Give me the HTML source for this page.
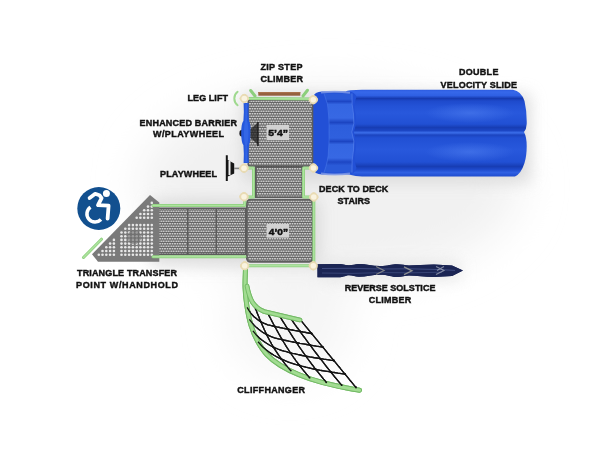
<!DOCTYPE html>
<html><head><meta charset="utf-8">
<style>
html,body{margin:0;padding:0;background:#fff;width:600px;height:450px;overflow:hidden}
svg{display:block}
text{font-family:"Liberation Sans",sans-serif;font-weight:bold;fill:#111;stroke:#111;stroke-width:0.42px}
svg{will-change:transform}
</style></head>
<body>
<svg width="600" height="450" viewBox="0 0 600 450">
<defs>
  <pattern id="perf" width="2.5" height="5" patternUnits="userSpaceOnUse">
    <rect width="2.5" height="5" fill="#666666"/>
    <rect x="0.5" y="0.55" width="1.5" height="1.4" fill="#e2e2e2"/>
    <rect x="1.75" y="3.05" width="1.5" height="1.4" fill="#e2e2e2"/>
    <rect x="-0.75" y="3.05" width="1.5" height="1.4" fill="#e2e2e2"/>
  </pattern>
  <pattern id="perf2" width="3.6" height="3.6" patternUnits="userSpaceOnUse">
    <rect width="3.6" height="3.6" fill="#6a6a6a"/>
    <circle cx="1.8" cy="1.8" r="1.05" fill="#dcdcdc"/>
  </pattern>
  <radialGradient id="shadow" cx="0.5" cy="0.5" r="0.5">
    <stop offset="0" stop-color="#e8e8e8"/>
    <stop offset="0.6" stop-color="#f2f2f2"/>
    <stop offset="1" stop-color="#ffffff" stop-opacity="0"/>
  </radialGradient>
  <filter id="blur4" x="-50%" y="-50%" width="200%" height="200%"><feGaussianBlur stdDeviation="8"/></filter>
  <filter id="blur1"><feGaussianBlur stdDeviation="0.6"/></filter>
  <linearGradient id="slideV" x1="0" y1="89.8" x2="0" y2="176.4" gradientUnits="userSpaceOnUse">
    <stop offset="0.0000" stop-color="#2c5ce0"/>
    <stop offset="0.0254" stop-color="#3668ea"/>
    <stop offset="0.0658" stop-color="#2f60e4"/>
    <stop offset="0.1005" stop-color="#163ab0"/>
    <stop offset="0.1293" stop-color="#1e4acc"/>
    <stop offset="0.1871" stop-color="#2352d6"/>
    <stop offset="0.2679" stop-color="#2858dc"/>
    <stop offset="0.3949" stop-color="#2150d4"/>
    <stop offset="0.4353" stop-color="#173db4"/>
    <stop offset="0.4700" stop-color="#1c46c4"/>
    <stop offset="0.4965" stop-color="#3b6eea"/>
    <stop offset="0.5219" stop-color="#1b44c0"/>
    <stop offset="0.5566" stop-color="#2150d4"/>
    <stop offset="0.6952" stop-color="#2858dc"/>
    <stop offset="0.8337" stop-color="#2150d4"/>
    <stop offset="0.8857" stop-color="#173db4"/>
    <stop offset="0.9203" stop-color="#1e4acc"/>
    <stop offset="0.9550" stop-color="#2f60e2"/>
    <stop offset="1.0000" stop-color="#1f4ccf"/>
  </linearGradient>
  <linearGradient id="hoodV" x1="0" y1="93.5" x2="0" y2="172.5" gradientUnits="userSpaceOnUse">
    <stop offset="0.0000" stop-color="#2a5ad8"/>
    <stop offset="0.0696" stop-color="#2a5ad8"/>
    <stop offset="0.1013" stop-color="#1d46c4"/>
    <stop offset="0.1392" stop-color="#3466e2"/>
    <stop offset="0.3101" stop-color="#3768e4"/>
    <stop offset="0.3671" stop-color="#1c45c2"/>
    <stop offset="0.4051" stop-color="#2d5edc"/>
    <stop offset="0.5633" stop-color="#2f60de"/>
    <stop offset="0.6076" stop-color="#1c45c2"/>
    <stop offset="0.6456" stop-color="#3466e2"/>
    <stop offset="0.8165" stop-color="#3768e4"/>
    <stop offset="0.8671" stop-color="#1d46c4"/>
    <stop offset="0.9114" stop-color="#2a5ad8"/>
    <stop offset="1.0000" stop-color="#2a5ad8"/>
  </linearGradient>
  <radialGradient id="sheen" cx="0.5" cy="0.5" r="0.5">
    <stop offset="0" stop-color="#5080f0" stop-opacity="0.55"/>
    <stop offset="1" stop-color="#5080f0" stop-opacity="0"/>
  </radialGradient>
</defs>

<!-- soft shadows -->
<filter id="blurBig" x="-50%" y="-50%" width="200%" height="200%"><feGaussianBlur stdDeviation="22"/></filter>
<g filter="url(#blurBig)">
  <ellipse cx="330" cy="185" rx="190" ry="95" fill="#f1f1f1"/>
  <ellipse cx="290" cy="320" rx="60" ry="55" fill="#f5f5f5"/>
</g>
<g filter="url(#blur4)" opacity="0.9">
  <rect x="242" y="94" width="288" height="88" fill="#d8d8d8"/>
  <rect x="150" y="200" width="170" height="65" fill="#d8d8d8"/>
  <rect x="320" y="262" width="140" height="17" fill="#e4e4e4"/>
</g>

<!-- SLIDE -->
<g>
  <path d="M346 91.5 Q347 89.8 362 89.8 L513 89.8 Q521 91 524.5 101 Q527 112 526.7 124 Q526.5 129 524 132 Q526.7 137 526.7 146 Q526.7 156 524.5 163 Q521 174 515 176.4 L362 176.4 Q348 176 346 172 Z" fill="url(#slideV)"/>
  <ellipse cx="470" cy="113" rx="45" ry="10" fill="url(#sheen)"/>
  <ellipse cx="470" cy="152" rx="45" ry="10" fill="url(#sheen)"/>
  <path d="M313 97 Q314.5 91.8 322 91.5 L349 91.5 Q354.5 92 356.5 96.5 Q353.5 105 355.5 114 Q357 124 353.8 132 Q357 141 355.5 150 Q353.5 160 356.5 168 Q354.5 174.2 349 174.5 L322 174.5 Q314.5 174.2 313 169 Z" fill="#2250d6"/>
  <path d="M324 93.5 L352 93.5 Q351.5 105 353.5 114 Q355 124 351.8 132 Q355 141 353.5 150 Q351.5 160 352 172.5 L324 172.5 Q328.5 160 328.5 150 Q329.5 140 329 132 Q329.5 124 328.5 114 Q328.5 104 324 93.5 Z" fill="url(#hoodV)"/>
  <path d="M321 92.6 Q335 90.6 350 92.8" stroke="#8aa2e8" stroke-width="2" fill="none" opacity="0.75"/>
  <path d="M321 173.6 Q335 175.6 350 173.4" stroke="#8aa2e8" stroke-width="2" fill="none" opacity="0.75"/>
  <path d="M324 93.5 Q328.5 104 328.5 114 Q329.5 124 329 132 Q329.5 140 328.5 150 Q328.5 160 324 172.5" stroke="#4a78ea" stroke-width="0.8" fill="none" opacity="0.7"/>
  <path d="M352 93.5 Q351.5 105 353.5 114 Q355 124 351.8 132 Q355 141 353.5 150 Q351.5 160 352 172.5" stroke="#5a84ee" stroke-width="0.9" fill="none" opacity="0.7"/>
</g>

<!-- TOP DECK -->
<rect x="247.5" y="99" width="65.8" height="67.8" rx="2.5" fill="#5c5c5c"/>
<rect x="249" y="100.5" width="62.8" height="64.8" rx="1.5" fill="url(#perf)"/>
<!-- stairs deck -->
<rect x="255" y="166" width="48.3" height="32" fill="#5a5a5a"/>
<rect x="256.8" y="168" width="44.7" height="28.5" fill="url(#perf)"/>
<!-- bottom deck -->
<rect x="246" y="198.8" width="67.6" height="64" rx="4.5" fill="#5e5e5e"/>
<rect x="247.8" y="200.6" width="64" height="60.4" rx="3.2" fill="url(#perf)"/>
<!-- transfer steps -->
<rect x="157.5" y="207.5" width="89" height="47.5" fill="#5c5c5c"/>
<rect x="159" y="209" width="28" height="44.5" fill="url(#perf)"/>
<rect x="188.5" y="209" width="27" height="44.5" fill="url(#perf)"/>
<rect x="217" y="209" width="28" height="44.5" fill="url(#perf)"/>
<!--TRI-->
<path d="M150 195 L159.3 202.5 L159.3 261.7 L98 261.7 L92 254.3 Z" fill="#7a7a7a"/>
<g fill="#e8e8e8"><circle cx="98.8" cy="254.7" r="1.3"/><circle cx="102.5" cy="254.7" r="1.3"/><circle cx="106.3" cy="254.7" r="1.3"/><circle cx="110.1" cy="254.7" r="1.3"/><circle cx="113.9" cy="254.7" r="1.3"/><circle cx="121.5" cy="254.7" r="1.3"/><circle cx="125.3" cy="254.7" r="1.3"/><circle cx="129.1" cy="254.7" r="1.3"/><circle cx="132.9" cy="254.7" r="1.3"/><circle cx="136.7" cy="254.7" r="1.3"/><circle cx="140.4" cy="254.7" r="1.3"/><circle cx="144.2" cy="254.7" r="1.3"/><circle cx="148.0" cy="254.7" r="1.3"/><circle cx="151.8" cy="254.7" r="1.3"/><circle cx="102.5" cy="251.0" r="1.3"/><circle cx="106.3" cy="251.0" r="1.3"/><circle cx="110.1" cy="251.0" r="1.3"/><circle cx="113.9" cy="251.0" r="1.3"/><circle cx="121.5" cy="251.0" r="1.3"/><circle cx="125.3" cy="251.0" r="1.3"/><circle cx="129.1" cy="251.0" r="1.3"/><circle cx="132.9" cy="251.0" r="1.3"/><circle cx="136.7" cy="251.0" r="1.3"/><circle cx="140.4" cy="251.0" r="1.3"/><circle cx="144.2" cy="251.0" r="1.3"/><circle cx="148.0" cy="251.0" r="1.3"/><circle cx="151.8" cy="251.0" r="1.3"/><circle cx="106.3" cy="247.3" r="1.3"/><circle cx="110.1" cy="247.3" r="1.3"/><circle cx="113.9" cy="247.3" r="1.3"/><circle cx="121.5" cy="247.3" r="1.3"/><circle cx="125.3" cy="247.3" r="1.3"/><circle cx="129.1" cy="247.3" r="1.3"/><circle cx="132.9" cy="247.3" r="1.3"/><circle cx="136.7" cy="247.3" r="1.3"/><circle cx="140.4" cy="247.3" r="1.3"/><circle cx="144.2" cy="247.3" r="1.3"/><circle cx="148.0" cy="247.3" r="1.3"/><circle cx="151.8" cy="247.3" r="1.3"/><circle cx="110.1" cy="243.6" r="1.3"/><circle cx="113.9" cy="243.6" r="1.3"/><circle cx="121.5" cy="243.6" r="1.3"/><circle cx="125.3" cy="243.6" r="1.3"/><circle cx="129.1" cy="243.6" r="1.3"/><circle cx="132.9" cy="243.6" r="1.3"/><circle cx="136.7" cy="243.6" r="1.3"/><circle cx="140.4" cy="243.6" r="1.3"/><circle cx="144.2" cy="243.6" r="1.3"/><circle cx="148.0" cy="243.6" r="1.3"/><circle cx="151.8" cy="243.6" r="1.3"/><circle cx="113.9" cy="239.9" r="1.3"/><circle cx="121.5" cy="239.9" r="1.3"/><circle cx="125.3" cy="239.9" r="1.3"/><circle cx="129.1" cy="239.9" r="1.3"/><circle cx="132.9" cy="239.9" r="1.3"/><circle cx="136.7" cy="239.9" r="1.3"/><circle cx="140.4" cy="239.9" r="1.3"/><circle cx="144.2" cy="239.9" r="1.3"/><circle cx="148.0" cy="239.9" r="1.3"/><circle cx="151.8" cy="239.9" r="1.3"/><circle cx="121.5" cy="236.2" r="1.3"/><circle cx="125.3" cy="236.2" r="1.3"/><circle cx="129.1" cy="236.2" r="1.3"/><circle cx="132.9" cy="236.2" r="1.3"/><circle cx="136.7" cy="236.2" r="1.3"/><circle cx="140.4" cy="236.2" r="1.3"/><circle cx="144.2" cy="236.2" r="1.3"/><circle cx="148.0" cy="236.2" r="1.3"/><circle cx="151.8" cy="236.2" r="1.3"/><circle cx="121.5" cy="232.5" r="1.3"/><circle cx="125.3" cy="232.5" r="1.3"/><circle cx="129.1" cy="232.5" r="1.3"/><circle cx="132.9" cy="232.5" r="1.3"/><circle cx="136.7" cy="232.5" r="1.3"/><circle cx="140.4" cy="232.5" r="1.3"/><circle cx="144.2" cy="232.5" r="1.3"/><circle cx="148.0" cy="232.5" r="1.3"/><circle cx="151.8" cy="232.5" r="1.3"/><circle cx="125.3" cy="228.8" r="1.3"/><circle cx="129.1" cy="228.8" r="1.3"/><circle cx="132.9" cy="228.8" r="1.3"/><circle cx="136.7" cy="228.8" r="1.3"/><circle cx="140.4" cy="228.8" r="1.3"/><circle cx="144.2" cy="228.8" r="1.3"/><circle cx="148.0" cy="228.8" r="1.3"/><circle cx="151.8" cy="228.8" r="1.3"/><circle cx="129.1" cy="225.1" r="1.3"/><circle cx="132.9" cy="225.1" r="1.3"/><circle cx="136.7" cy="225.1" r="1.3"/><circle cx="140.4" cy="225.1" r="1.3"/><circle cx="144.2" cy="225.1" r="1.3"/><circle cx="148.0" cy="225.1" r="1.3"/><circle cx="151.8" cy="225.1" r="1.3"/><circle cx="136.7" cy="217.7" r="1.3"/><circle cx="140.4" cy="217.7" r="1.3"/><circle cx="144.2" cy="217.7" r="1.3"/><circle cx="148.0" cy="217.7" r="1.3"/><circle cx="151.8" cy="217.7" r="1.3"/><circle cx="140.4" cy="214.0" r="1.3"/><circle cx="144.2" cy="214.0" r="1.3"/><circle cx="148.0" cy="214.0" r="1.3"/><circle cx="151.8" cy="214.0" r="1.3"/><circle cx="144.2" cy="210.3" r="1.3"/><circle cx="148.0" cy="210.3" r="1.3"/><circle cx="151.8" cy="210.3" r="1.3"/><circle cx="148.0" cy="206.6" r="1.3"/><circle cx="151.8" cy="206.6" r="1.3"/><circle cx="151.8" cy="202.9" r="1.3"/></g>
<circle cx="134.3" cy="237.2" r="7" fill="#6a6a6a" opacity="0.6"/>
<!--/TRI-->

<!-- green rails -->
<g fill="none" stroke-linecap="round" stroke-linejoin="round">
 <g stroke="#8ccf7c" stroke-width="3">
  <path d="M245 98.5 L313 99"/>
  <path d="M255 96 L250.7 90.5"/>
  <path d="M303 96 L307.5 90.3"/>
  <path d="M244 168 L253.5 168 L253.5 197 L244 197"/>
  <path d="M313 168 L303.5 168 L303.5 197 L314 197"/>
  <path d="M153 205.6 L244.6 205.6 L245 199"/>
  <path d="M153 256.8 L245 256.8"/>
  <path d="M244.7 265.8 L313.3 265.8"/>
  <path d="M313.8 200 L313.8 265"/>
  <path d="M83.5 257.5 L101.5 239.2"/>
 </g>
 <g stroke="#aee3a0" stroke-width="1.5">
  <path d="M245 98.5 L313 99"/>
  <path d="M244 168 L253.5 168 L253.5 197 L244 197"/>
  <path d="M313 168 L303.5 168 L303.5 197 L314 197"/>
  <path d="M153 205.6 L244.6 205.6 L245 199"/>
  <path d="M153 256.8 L245 256.8"/>
  <path d="M244.7 265.8 L313.3 265.8"/>
  <path d="M313.8 200 L313.8 265"/>
  <path d="M83.5 257.5 L101.5 239.2"/>
 </g>
 <path d="M237.6 91.8 A8.5 8.5 0 0 0 237.6 105.2" stroke="#9fd98f" stroke-width="2"/>
</g>
<!-- brown zip step -->
<rect x="258.3" y="92" width="42" height="3.7" fill="#93603e"/>
<rect x="258.3" y="92" width="42" height="1.2" fill="#a8714b"/>

<!-- blue enhanced barrier -->
<ellipse cx="241.6" cy="133.2" rx="2.2" ry="3.2" fill="#1b1b22"/>
<path d="M243.6 103 L248.8 103 Q248.2 112 249 121 C251.5 124, 251 142, 249 145 Q248.2 154 248.8 163 L243.6 163 Q244.2 154 243.4 145 C240.6 142, 240.4 124, 243.4 121 Q244.2 112 243.6 103 Z" fill="#2658dc"/>
<path d="M245.4 104 L247 104 L246.8 120 C249 126, 249 140, 246.8 146 L247 162 L245.4 162 L245.4 146 C243.4 140, 243.4 126, 245.4 120 Z" fill="#3a6ce8" opacity="0.7"/>
<!-- playwheel on barrier -->
<path d="M250.6 129 L257.6 123 L257.6 144 L250.6 138 Z" fill="#202020" opacity="0.75"/>
<rect x="257.3" y="122" width="1.3" height="24" fill="#111"/>
<!-- playwheel -->
<path d="M225.8 155.3 L227.8 155.3 L227.8 160 L234.2 163.5 L234.2 173.5 L227.8 176.5 L227.8 181 L225.8 181 Z" fill="#161616"/>
<rect x="228.5" y="161" width="2" height="14" fill="#eee"/>
<rect x="234" y="167.6" width="7" height="1.6" fill="#888"/>

<!-- labels on decks -->
<rect x="266.7" y="125" width="22.3" height="15" fill="#d4d4d4" opacity="0.85"/>
<text x="268.3" y="136.2" font-size="9.8" textLength="19.8" lengthAdjust="spacingAndGlyphs">5’4”</text>
<rect x="266.7" y="224" width="22.3" height="13.5" fill="#d4d4d4" opacity="0.85"/>
<text x="268.8" y="234.6" font-size="9.4" textLength="19.2" lengthAdjust="spacingAndGlyphs">4’0”</text>

<!-- reverse solstice climber -->
<path d="M317.5 264.2 L338 264 C344 264.2, 346 265.3, 349 265.3 C353 265.3, 355 264, 359 264 C366 264, 372 266, 380 266 C388 266, 392 264.3, 397 264.3 C402 264.3, 405 265.5, 409 265.5 C416 265.5, 425 264.5, 434 264.5 L452 265.5 L463 270.6 L452 276 L434 277 C425 277, 416 275.5, 409 275.5 C405 275.5, 402 277, 397 277 C392 277, 388 274.7, 380 274.7 C372 274.7, 366 276.7, 359 276.7 C355 276.7, 353 275.3, 349 275.3 C346 275.3, 344 277.3, 338 277.3 L317.5 277.3 Z" fill="#1b2554"/>
<g fill="none" stroke-width="0.9">
  <path d="M322 268.5 L350 268.3 L380 269 L410 268.8 L440 269.6 L455 270.4" stroke="#46548a" opacity="0.9"/>
  <path d="M322 273 L352 273.4 L382 272.6 L412 272.8 L442 272.2" stroke="#3d4a7c" opacity="0.9"/>
  <path d="M376 266.5 L384 270.5 L376 274.5" stroke="#9c9c94" stroke-width="1.3" opacity="0.75"/>
  <path d="M404 266.8 L412 270.8 L404 274.6" stroke="#a8a89e" stroke-width="1.3" opacity="0.8"/>
  <path d="M436 266.6 L444 270.5 L436 274.6 M444 266.6 L437 270.6" stroke="#9aa0b4" stroke-width="1.1" opacity="0.8"/>
</g>

<!--NET-->
<g fill="none" stroke-linecap="round">
  <path d="M245.5 268.0 C245.4 274.7, 244.8 281.6, 245.1 288.0 C245.3 294.4, 246.0 300.5, 247.0 306.7 C248.0 312.9, 249.2 319.5, 251.0 325.3 C252.8 331.1, 255.0 336.4, 257.7 341.3 C260.4 346.2, 263.2 350.7, 267.0 354.7 C270.8 358.7, 275.0 362.0, 280.3 365.3 C285.6 368.6, 291.9 371.8, 299.0 374.7 C306.1 377.6, 315.0 380.5, 323.0 382.7 C331.0 384.9, 340.9 386.8, 347.0 388.0 C353.1 389.2, 355.3 389.5, 359.5 390.2" stroke="#74bb66" stroke-width="5"/>
  <path d="M245.5 268.0 C245.4 274.7, 244.8 281.6, 245.1 288.0 C245.3 294.4, 246.0 300.5, 247.0 306.7 C248.0 312.9, 249.2 319.5, 251.0 325.3 C252.8 331.1, 255.0 336.4, 257.7 341.3 C260.4 346.2, 263.2 350.7, 267.0 354.7 C270.8 358.7, 275.0 362.0, 280.3 365.3 C285.6 368.6, 291.9 371.8, 299.0 374.7 C306.1 377.6, 315.0 380.5, 323.0 382.7 C331.0 384.9, 340.9 386.8, 347.0 388.0 C353.1 389.2, 355.3 389.5, 359.5 390.2" stroke="#a2dc92" stroke-width="3"/>
</g>
<g stroke="#141414" stroke-width="1.3" fill="none">
  <path d="M255.6 308.7 L256.2 310.3 L256.8 311.9 L257.4 313.6 L258.1 315.2 L258.8 316.8 L259.4 318.4 L260.1 320.0 L260.8 321.7 L261.5 323.2 L262.2 324.9 L262.9 326.5 L263.6 328.1 L264.3 329.7 L265.1 331.3 L265.8 332.9 L266.6 334.5 L267.4 336.1 L268.2 337.6 L269.0 339.2 L269.8 340.8 L270.7 342.4 L271.6 344.0 L272.5 345.5 L273.4 347.1 L274.3 348.6 L275.3 350.1 L276.3 351.7 L277.3 353.2 L278.3 354.7 L279.3 356.2 L280.4 357.7 L281.5 359.2 L282.6 360.6 L283.7 362.1 L284.8 363.6 L285.9 365.0 L287.1 366.4 L288.3 367.9 L289.5 369.2 L290.8 370.6"/>
  <path d="M267.7 313.0 L268.6 314.7 L269.4 316.4 L270.3 318.0 L271.2 319.7 L272.0 321.4 L272.9 323.0 L273.8 324.7 L274.7 326.4 L275.6 328.0 L276.6 329.7 L277.5 331.4 L278.4 333.0 L279.3 334.7 L280.3 336.4 L281.2 338.0 L282.2 339.7 L283.2 341.3 L284.2 343.0 L285.2 344.6 L286.2 346.3 L287.2 347.9 L288.3 349.5 L289.3 351.2 L290.4 352.8 L291.5 354.4 L292.6 356.0 L293.7 357.6 L294.9 359.2 L296.0 360.8 L297.2 362.4 L298.4 364.0 L299.6 365.5 L300.8 367.1 L302.0 368.6 L303.2 370.2 L304.5 371.7 L305.7 373.2 L307.0 374.8 L308.3 376.3 L309.6 377.7"/>
  <path d="M279.3 315.5 L280.3 317.2 L281.4 318.9 L282.4 320.6 L283.5 322.3 L284.6 324.0 L285.6 325.7 L286.7 327.4 L287.8 329.1 L288.9 330.8 L290.0 332.5 L291.0 334.2 L292.1 335.9 L293.2 337.6 L294.4 339.3 L295.5 341.0 L296.6 342.7 L297.7 344.4 L298.8 346.1 L300.0 347.8 L301.2 349.5 L302.3 351.2 L303.5 352.8 L304.7 354.5 L305.9 356.2 L307.1 357.8 L308.3 359.5 L309.5 361.2 L310.8 362.8 L312.0 364.5 L313.3 366.1 L314.5 367.8 L315.8 369.4 L317.1 371.0 L318.4 372.7 L319.7 374.3 L321.0 375.9 L322.3 377.5 L323.6 379.1 L325.0 380.7 L326.3 382.3"/>
  <path d="M290.1 317.8 L291.4 319.5 L292.6 321.2 L293.8 322.9 L295.0 324.6 L296.3 326.3 L297.5 328.0 L298.8 329.7 L300.0 331.4 L301.2 333.1 L302.5 334.8 L303.7 336.5 L305.0 338.2 L306.2 339.9 L307.5 341.6 L308.7 343.3 L310.0 345.0 L311.3 346.7 L312.5 348.4 L313.8 350.1 L315.1 351.8 L316.4 353.5 L317.7 355.2 L318.9 356.9 L320.2 358.6 L321.5 360.2 L322.9 361.9 L324.2 363.6 L325.5 365.3 L326.8 367.0 L328.1 368.6 L329.5 370.3 L330.8 372.0 L332.1 373.6 L333.5 375.3 L334.8 377.0 L336.2 378.6 L337.6 380.3 L338.9 381.9 L340.3 383.6 L341.7 385.2"/>
  <path d="M300.5 320.0 L301.9 321.7 L303.3 323.4 L304.7 325.1 L306.1 326.8 L307.4 328.4 L308.8 330.1 L310.2 331.8 L311.6 333.5 L313.0 335.2 L314.4 336.9 L315.8 338.6 L317.1 340.2 L318.5 341.9 L319.9 343.6 L321.3 345.3 L322.7 347.0 L324.1 348.7 L325.5 350.4 L326.9 352.1 L328.2 353.8 L329.6 355.4 L331.0 357.1 L332.4 358.8 L333.8 360.5 L335.2 362.2 L336.6 363.9 L338.0 365.6 L339.4 367.2 L340.7 368.9 L342.1 370.6 L343.5 372.3 L344.9 374.0 L346.3 375.7 L347.7 377.4 L349.1 379.1 L350.4 380.8 L351.8 382.4 L353.2 384.1 L354.6 385.8 L356.0 387.5"/>
  <path d="M247.1 307.4 L249.2 310.8 L250.8 313.1 L252.4 315.0 L254.0 316.7 L255.7 318.1 L257.4 319.5 L259.1 320.6 L260.8 321.7 L262.5 322.6 L264.3 323.4 L266.0 324.1 L267.8 324.8 L269.5 325.2 L271.3 325.6 L273.0 326.0 L274.7 326.4 L276.5 326.8 L278.1 327.1 L279.8 327.5 L281.4 327.8 L283.0 328.2 L284.6 328.5 L286.2 328.8 L287.8 329.1 L289.4 329.4 L290.9 329.8 L292.4 330.0 L294.0 330.3 L295.5 330.6 L297.0 330.9 L298.5 331.2 L300.0 331.4 L301.5 331.7 L303.0 332.0 L304.4 332.2 L305.9 332.5 L307.3 332.8 L308.8 333.0 L310.2 333.3 L311.6 333.5"/>
  <path d="M249.4 319.3 L252.3 323.2 L254.5 325.6 L256.6 327.6 L258.6 329.3 L260.6 330.8 L262.6 332.2 L264.6 333.4 L266.6 334.5 L268.6 335.4 L270.6 336.3 L272.5 337.1 L274.5 337.8 L276.5 338.3 L278.4 338.8 L280.3 339.2 L282.2 339.7 L284.1 340.1 L285.9 340.5 L287.7 340.9 L289.6 341.3 L291.3 341.7 L293.1 342.0 L294.9 342.4 L296.6 342.7 L298.3 343.0 L300.0 343.4 L301.7 343.6 L303.4 343.9 L305.1 344.2 L306.7 344.5 L308.4 344.8 L310.0 345.0 L311.6 345.3 L313.2 345.6 L314.8 345.8 L316.4 346.1 L318.0 346.3 L319.6 346.6 L321.2 346.8 L322.7 347.0"/>
  <path d="M252.9 330.9 L256.6 335.3 L259.3 337.9 L261.9 340.0 L264.3 341.8 L266.6 343.3 L268.9 344.7 L271.2 346.0 L273.4 347.1 L275.6 348.1 L277.8 349.0 L280.0 349.8 L282.1 350.6 L284.2 351.2 L286.4 351.7 L288.4 352.3 L290.4 352.8 L292.5 353.3 L294.4 353.7 L296.4 354.2 L298.3 354.6 L300.2 355.0 L302.2 355.5 L304.0 355.8 L305.9 356.2 L307.7 356.5 L309.6 356.9 L311.4 357.2 L313.2 357.5 L315.0 357.8 L316.8 358.0 L318.5 358.3 L320.2 358.6 L322.0 358.8 L323.7 359.1 L325.4 359.3 L327.1 359.6 L328.8 359.8 L330.5 360.1 L332.2 360.3 L333.8 360.5"/>
  <path d="M258.0 341.8 L262.5 346.8 L265.7 349.6 L268.6 351.8 L271.3 353.6 L274.0 355.3 L276.6 356.7 L279.0 358.0 L281.5 359.2 L283.9 360.2 L286.2 361.2 L288.5 362.1 L290.8 362.9 L293.0 363.6 L295.3 364.3 L297.4 364.9 L299.6 365.5 L301.7 366.1 L303.8 366.6 L305.8 367.2 L307.9 367.7 L309.9 368.1 L311.9 368.6 L313.9 369.0 L315.8 369.4 L317.7 369.8 L319.7 370.2 L321.5 370.5 L323.4 370.8 L325.3 371.1 L327.2 371.4 L329.0 371.7 L330.8 372.0 L332.6 372.3 L334.4 372.5 L336.2 372.8 L338.0 373.1 L339.7 373.3 L341.5 373.6 L343.2 373.8 L344.9 374.0"/>
</g>
<g fill="#111"><circle cx="255.6" cy="308.7" r="0.9"/><circle cx="260.8" cy="321.7" r="0.9"/><circle cx="266.6" cy="334.5" r="0.9"/><circle cx="273.4" cy="347.1" r="0.9"/><circle cx="281.5" cy="359.2" r="0.9"/><circle cx="290.8" cy="370.6" r="0.9"/><circle cx="267.7" cy="313.0" r="0.9"/><circle cx="274.7" cy="326.4" r="0.9"/><circle cx="282.2" cy="339.7" r="0.9"/><circle cx="290.4" cy="352.8" r="0.9"/><circle cx="299.6" cy="365.5" r="0.9"/><circle cx="309.6" cy="377.7" r="0.9"/><circle cx="279.3" cy="315.5" r="0.9"/><circle cx="287.8" cy="329.1" r="0.9"/><circle cx="296.6" cy="342.7" r="0.9"/><circle cx="305.9" cy="356.2" r="0.9"/><circle cx="315.8" cy="369.4" r="0.9"/><circle cx="326.3" cy="382.3" r="0.9"/><circle cx="290.1" cy="317.8" r="0.9"/><circle cx="300.0" cy="331.4" r="0.9"/><circle cx="310.0" cy="345.0" r="0.9"/><circle cx="320.2" cy="358.6" r="0.9"/><circle cx="330.8" cy="372.0" r="0.9"/><circle cx="341.7" cy="385.2" r="0.9"/><circle cx="300.5" cy="320.0" r="0.9"/><circle cx="311.6" cy="333.5" r="0.9"/><circle cx="322.7" cy="347.0" r="0.9"/><circle cx="333.8" cy="360.5" r="0.9"/><circle cx="344.9" cy="374.0" r="0.9"/><circle cx="356.0" cy="387.5" r="0.9"/></g>
<g fill="none" stroke-linecap="round">
  <path d="M247.0 286.0 C249.5 299.0, 253.0 307.0, 264.0 311.5 L300.0 320.0" stroke="#74bb66" stroke-width="4.6"/>
  <path d="M247.0 286.0 C249.5 299.0, 253.0 307.0, 264.0 311.5 L300.0 320.0" stroke="#a2dc92" stroke-width="2.8"/>
</g>
<!--/NET-->
<!-- posts -->
<defs><symbol id="post" viewBox="-6 -6 12 12" overflow="visible"><g fill="#e6d7ac"><circle cx="-2.7" cy="0" r="2.1"/><circle cx="2.7" cy="0" r="2.1"/><circle cx="0" cy="-2.7" r="2.1"/><circle cx="0" cy="2.7" r="2.1"/><circle r="3.3"/></g><g fill="#efe4c4"><circle cx="-2.4" cy="-0.3" r="1.6"/><circle cx="2.4" cy="-0.3" r="1.6"/><circle cx="0" cy="-2.7" r="1.6"/><circle cx="0" cy="2.2" r="1.6"/></g><circle r="2.5" fill="#fbf6e6"/></symbol></defs>
<g><use href="#post" x="244.3" y="98.5" width="12" height="12" transform="translate(-6 -6)"/><use href="#post" x="313.3" y="99.7" width="12" height="12" transform="translate(-6 -6)"/><use href="#post" x="244.0" y="168.2" width="12" height="12" transform="translate(-6 -6)"/><use href="#post" x="313.5" y="168.0" width="12" height="12" transform="translate(-6 -6)"/><use href="#post" x="244.0" y="196.7" width="12" height="12" transform="translate(-6 -6)"/><use href="#post" x="313.8" y="197.0" width="12" height="12" transform="translate(-6 -6)"/><use href="#post" x="244.7" y="265.8" width="12" height="12" transform="translate(-6 -6)"/><use href="#post" x="313.3" y="265.8" width="12" height="12" transform="translate(-6 -6)"/></g>

<!-- labels on decks -->
<rect x="266.7" y="125" width="22.3" height="15" fill="#d4d4d4" opacity="0.85"/>
<text x="268.3" y="136.2" font-size="9.8" textLength="19.8" lengthAdjust="spacingAndGlyphs">5’4”</text>
<rect x="266.7" y="224" width="22.3" height="13.5" fill="#d4d4d4" opacity="0.85"/>
<text x="268.8" y="234.6" font-size="9.4" textLength="19.2" lengthAdjust="spacingAndGlyphs">4’0”</text>

<!-- reverse solstice climber -->
<path d="M317.5 264.2 L338 264 C344 264.2, 346 265.3, 349 265.3 C353 265.3, 355 264, 359 264 C366 264, 372 266, 380 266 C388 266, 392 264.3, 397 264.3 C402 264.3, 405 265.5, 409 265.5 C416 265.5, 425 264.5, 434 264.5 L452 265.5 L463 270.6 L452 276 L434 277 C425 277, 416 275.5, 409 275.5 C405 275.5, 402 277, 397 277 C392 277, 388 274.7, 380 274.7 C372 274.7, 366 276.7, 359 276.7 C355 276.7, 353 275.3, 349 275.3 C346 275.3, 344 277.3, 338 277.3 L317.5 277.3 Z" fill="#1b2554"/>
<g fill="none" stroke-width="0.9">
  <path d="M322 268.5 L350 268.3 L380 269 L410 268.8 L440 269.6 L455 270.4" stroke="#46548a" opacity="0.9"/>
  <path d="M322 273 L352 273.4 L382 272.6 L412 272.8 L442 272.2" stroke="#3d4a7c" opacity="0.9"/>
  <path d="M376 266.5 L384 270.5 L376 274.5" stroke="#9c9c94" stroke-width="1.3" opacity="0.75"/>
  <path d="M404 266.8 L412 270.8 L404 274.6" stroke="#a8a89e" stroke-width="1.3" opacity="0.8"/>
  <path d="M436 266.6 L444 270.5 L436 274.6 M444 266.6 L437 270.6" stroke="#9aa0b4" stroke-width="1.1" opacity="0.8"/>
</g>

<!--NET-->
<g fill="none" stroke-linecap="round">
  <path d="M245.5 268.0 C245.4 274.7, 244.8 281.6, 245.1 288.0 C245.3 294.4, 246.0 300.5, 247.0 306.7 C248.0 312.9, 249.2 319.5, 251.0 325.3 C252.8 331.1, 255.0 336.4, 257.7 341.3 C260.4 346.2, 263.2 350.7, 267.0 354.7 C270.8 358.7, 275.0 362.0, 280.3 365.3 C285.6 368.6, 291.9 371.8, 299.0 374.7 C306.1 377.6, 315.0 380.5, 323.0 382.7 C331.0 384.9, 340.9 386.8, 347.0 388.0 C353.1 389.2, 355.3 389.5, 359.5 390.2" stroke="#74bb66" stroke-width="5"/>
  <path d="M245.5 268.0 C245.4 274.7, 244.8 281.6, 245.1 288.0 C245.3 294.4, 246.0 300.5, 247.0 306.7 C248.0 312.9, 249.2 319.5, 251.0 325.3 C252.8 331.1, 255.0 336.4, 257.7 341.3 C260.4 346.2, 263.2 350.7, 267.0 354.7 C270.8 358.7, 275.0 362.0, 280.3 365.3 C285.6 368.6, 291.9 371.8, 299.0 374.7 C306.1 377.6, 315.0 380.5, 323.0 382.7 C331.0 384.9, 340.9 386.8, 347.0 388.0 C353.1 389.2, 355.3 389.5, 359.5 390.2" stroke="#a2dc92" stroke-width="3"/>
</g>
<g stroke="#141414" stroke-width="1.3" fill="none">
  <path d="M255.6 308.7 L256.2 310.3 L256.8 311.9 L257.4 313.6 L258.1 315.2 L258.8 316.8 L259.4 318.4 L260.1 320.0 L260.8 321.7 L261.5 323.2 L262.2 324.9 L262.9 326.5 L263.6 328.1 L264.3 329.7 L265.1 331.3 L265.8 332.9 L266.6 334.5 L267.4 336.1 L268.2 337.6 L269.0 339.2 L269.8 340.8 L270.7 342.4 L271.6 344.0 L272.5 345.5 L273.4 347.1 L274.3 348.6 L275.3 350.1 L276.3 351.7 L277.3 353.2 L278.3 354.7 L279.3 356.2 L280.4 357.7 L281.5 359.2 L282.6 360.6 L283.7 362.1 L284.8 363.6 L285.9 365.0 L287.1 366.4 L288.3 367.9 L289.5 369.2 L290.8 370.6"/>
  <path d="M267.7 313.0 L268.6 314.7 L269.4 316.4 L270.3 318.0 L271.2 319.7 L272.0 321.4 L272.9 323.0 L273.8 324.7 L274.7 326.4 L275.6 328.0 L276.6 329.7 L277.5 331.4 L278.4 333.0 L279.3 334.7 L280.3 336.4 L281.2 338.0 L282.2 339.7 L283.2 341.3 L284.2 343.0 L285.2 344.6 L286.2 346.3 L287.2 347.9 L288.3 349.5 L289.3 351.2 L290.4 352.8 L291.5 354.4 L292.6 356.0 L293.7 357.6 L294.9 359.2 L296.0 360.8 L297.2 362.4 L298.4 364.0 L299.6 365.5 L300.8 367.1 L302.0 368.6 L303.2 370.2 L304.5 371.7 L305.7 373.2 L307.0 374.8 L308.3 376.3 L309.6 377.7"/>
  <path d="M279.3 315.5 L280.3 317.2 L281.4 318.9 L282.4 320.6 L283.5 322.3 L284.6 324.0 L285.6 325.7 L286.7 327.4 L287.8 329.1 L288.9 330.8 L290.0 332.5 L291.0 334.2 L292.1 335.9 L293.2 337.6 L294.4 339.3 L295.5 341.0 L296.6 342.7 L297.7 344.4 L298.8 346.1 L300.0 347.8 L301.2 349.5 L302.3 351.2 L303.5 352.8 L304.7 354.5 L305.9 356.2 L307.1 357.8 L308.3 359.5 L309.5 361.2 L310.8 362.8 L312.0 364.5 L313.3 366.1 L314.5 367.8 L315.8 369.4 L317.1 371.0 L318.4 372.7 L319.7 374.3 L321.0 375.9 L322.3 377.5 L323.6 379.1 L325.0 380.7 L326.3 382.3"/>
  <path d="M290.1 317.8 L291.4 319.5 L292.6 321.2 L293.8 322.9 L295.0 324.6 L296.3 326.3 L297.5 328.0 L298.8 329.7 L300.0 331.4 L301.2 333.1 L302.5 334.8 L303.7 336.5 L305.0 338.2 L306.2 339.9 L307.5 341.6 L308.7 343.3 L310.0 345.0 L311.3 346.7 L312.5 348.4 L313.8 350.1 L315.1 351.8 L316.4 353.5 L317.7 355.2 L318.9 356.9 L320.2 358.6 L321.5 360.2 L322.9 361.9 L324.2 363.6 L325.5 365.3 L326.8 367.0 L328.1 368.6 L329.5 370.3 L330.8 372.0 L332.1 373.6 L333.5 375.3 L334.8 377.0 L336.2 378.6 L337.6 380.3 L338.9 381.9 L340.3 383.6 L341.7 385.2"/>
  <path d="M300.5 320.0 L301.9 321.7 L303.3 323.4 L304.7 325.1 L306.1 326.8 L307.4 328.4 L308.8 330.1 L310.2 331.8 L311.6 333.5 L313.0 335.2 L314.4 336.9 L315.8 338.6 L317.1 340.2 L318.5 341.9 L319.9 343.6 L321.3 345.3 L322.7 347.0 L324.1 348.7 L325.5 350.4 L326.9 352.1 L328.2 353.8 L329.6 355.4 L331.0 357.1 L332.4 358.8 L333.8 360.5 L335.2 362.2 L336.6 363.9 L338.0 365.6 L339.4 367.2 L340.7 368.9 L342.1 370.6 L343.5 372.3 L344.9 374.0 L346.3 375.7 L347.7 377.4 L349.1 379.1 L350.4 380.8 L351.8 382.4 L353.2 384.1 L354.6 385.8 L356.0 387.5"/>
  <path d="M247.1 307.4 L249.2 310.8 L250.8 313.1 L252.4 315.0 L254.0 316.7 L255.7 318.1 L257.4 319.5 L259.1 320.6 L260.8 321.7 L262.5 322.6 L264.3 323.4 L266.0 324.1 L267.8 324.8 L269.5 325.2 L271.3 325.6 L273.0 326.0 L274.7 326.4 L276.5 326.8 L278.1 327.1 L279.8 327.5 L281.4 327.8 L283.0 328.2 L284.6 328.5 L286.2 328.8 L287.8 329.1 L289.4 329.4 L290.9 329.8 L292.4 330.0 L294.0 330.3 L295.5 330.6 L297.0 330.9 L298.5 331.2 L300.0 331.4 L301.5 331.7 L303.0 332.0 L304.4 332.2 L305.9 332.5 L307.3 332.8 L308.8 333.0 L310.2 333.3 L311.6 333.5"/>
  <path d="M249.4 319.3 L252.3 323.2 L254.5 325.6 L256.6 327.6 L258.6 329.3 L260.6 330.8 L262.6 332.2 L264.6 333.4 L266.6 334.5 L268.6 335.4 L270.6 336.3 L272.5 337.1 L274.5 337.8 L276.5 338.3 L278.4 338.8 L280.3 339.2 L282.2 339.7 L284.1 340.1 L285.9 340.5 L287.7 340.9 L289.6 341.3 L291.3 341.7 L293.1 342.0 L294.9 342.4 L296.6 342.7 L298.3 343.0 L300.0 343.4 L301.7 343.6 L303.4 343.9 L305.1 344.2 L306.7 344.5 L308.4 344.8 L310.0 345.0 L311.6 345.3 L313.2 345.6 L314.8 345.8 L316.4 346.1 L318.0 346.3 L319.6 346.6 L321.2 346.8 L322.7 347.0"/>
  <path d="M252.9 330.9 L256.6 335.3 L259.3 337.9 L261.9 340.0 L264.3 341.8 L266.6 343.3 L268.9 344.7 L271.2 346.0 L273.4 347.1 L275.6 348.1 L277.8 349.0 L280.0 349.8 L282.1 350.6 L284.2 351.2 L286.4 351.7 L288.4 352.3 L290.4 352.8 L292.5 353.3 L294.4 353.7 L296.4 354.2 L298.3 354.6 L300.2 355.0 L302.2 355.5 L304.0 355.8 L305.9 356.2 L307.7 356.5 L309.6 356.9 L311.4 357.2 L313.2 357.5 L315.0 357.8 L316.8 358.0 L318.5 358.3 L320.2 358.6 L322.0 358.8 L323.7 359.1 L325.4 359.3 L327.1 359.6 L328.8 359.8 L330.5 360.1 L332.2 360.3 L333.8 360.5"/>
  <path d="M258.0 341.8 L262.5 346.8 L265.7 349.6 L268.6 351.8 L271.3 353.6 L274.0 355.3 L276.6 356.7 L279.0 358.0 L281.5 359.2 L283.9 360.2 L286.2 361.2 L288.5 362.1 L290.8 362.9 L293.0 363.6 L295.3 364.3 L297.4 364.9 L299.6 365.5 L301.7 366.1 L303.8 366.6 L305.8 367.2 L307.9 367.7 L309.9 368.1 L311.9 368.6 L313.9 369.0 L315.8 369.4 L317.7 369.8 L319.7 370.2 L321.5 370.5 L323.4 370.8 L325.3 371.1 L327.2 371.4 L329.0 371.7 L330.8 372.0 L332.6 372.3 L334.4 372.5 L336.2 372.8 L338.0 373.1 L339.7 373.3 L341.5 373.6 L343.2 373.8 L344.9 374.0"/>
</g>
<g fill="#111"><circle cx="255.6" cy="308.7" r="0.9"/><circle cx="260.8" cy="321.7" r="0.9"/><circle cx="266.6" cy="334.5" r="0.9"/><circle cx="273.4" cy="347.1" r="0.9"/><circle cx="281.5" cy="359.2" r="0.9"/><circle cx="290.8" cy="370.6" r="0.9"/><circle cx="267.7" cy="313.0" r="0.9"/><circle cx="274.7" cy="326.4" r="0.9"/><circle cx="282.2" cy="339.7" r="0.9"/><circle cx="290.4" cy="352.8" r="0.9"/><circle cx="299.6" cy="365.5" r="0.9"/><circle cx="309.6" cy="377.7" r="0.9"/><circle cx="279.3" cy="315.5" r="0.9"/><circle cx="287.8" cy="329.1" r="0.9"/><circle cx="296.6" cy="342.7" r="0.9"/><circle cx="305.9" cy="356.2" r="0.9"/><circle cx="315.8" cy="369.4" r="0.9"/><circle cx="326.3" cy="382.3" r="0.9"/><circle cx="290.1" cy="317.8" r="0.9"/><circle cx="300.0" cy="331.4" r="0.9"/><circle cx="310.0" cy="345.0" r="0.9"/><circle cx="320.2" cy="358.6" r="0.9"/><circle cx="330.8" cy="372.0" r="0.9"/><circle cx="341.7" cy="385.2" r="0.9"/><circle cx="300.5" cy="320.0" r="0.9"/><circle cx="311.6" cy="333.5" r="0.9"/><circle cx="322.7" cy="347.0" r="0.9"/><circle cx="333.8" cy="360.5" r="0.9"/><circle cx="344.9" cy="374.0" r="0.9"/><circle cx="356.0" cy="387.5" r="0.9"/></g>
<g fill="none" stroke-linecap="round">
  <path d="M247.0 286.0 C249.5 299.0, 253.0 307.0, 264.0 311.5 L300.0 320.0" stroke="#74bb66" stroke-width="4.6"/>
  <path d="M247.0 286.0 C249.5 299.0, 253.0 307.0, 264.0 311.5 L300.0 320.0" stroke="#a2dc92" stroke-width="2.8"/>
</g>
<!--/NET-->
<!-- posts -->
<g><circle cx="244.3" cy="98.5" r="4.4" fill="#e9dbb3"/><circle cx="244.3" cy="98.5" r="2.8" fill="#f9f3e0"/><circle cx="313.3" cy="99.7" r="4.4" fill="#e9dbb3"/><circle cx="313.3" cy="99.7" r="2.8" fill="#f9f3e0"/><circle cx="244.0" cy="168.2" r="4.4" fill="#e9dbb3"/><circle cx="244.0" cy="168.2" r="2.8" fill="#f9f3e0"/><circle cx="313.5" cy="168.0" r="4.4" fill="#e9dbb3"/><circle cx="313.5" cy="168.0" r="2.8" fill="#f9f3e0"/><circle cx="244.0" cy="196.7" r="4.4" fill="#e9dbb3"/><circle cx="244.0" cy="196.7" r="2.8" fill="#f9f3e0"/><circle cx="313.8" cy="197.0" r="4.4" fill="#e9dbb3"/><circle cx="313.8" cy="197.0" r="2.8" fill="#f9f3e0"/><circle cx="244.7" cy="265.8" r="4.4" fill="#e9dbb3"/><circle cx="244.7" cy="265.8" r="2.8" fill="#f9f3e0"/><circle cx="313.3" cy="265.8" r="4.4" fill="#e9dbb3"/><circle cx="313.3" cy="265.8" r="2.8" fill="#f9f3e0"/></g>



<!-- accessibility icon -->
<circle cx="98.8" cy="208.5" r="21.5" fill="#12508f"/>
<circle cx="106.4" cy="193.6" r="3.5" fill="#fff"/>
<g stroke="#fff" fill="none">
  <path d="M89.6 198 L95.2 193.8 L99.4 195.2 L101.6 198.2 L98 205.2 L108.6 205.6 L107.6 218.6" stroke-width="3.8" stroke-linejoin="round" stroke-linecap="round"/>
  <path d="M90.5 207.1 A8.2 8.2 0 1 0 101 219.6" stroke-width="3.5"/>
</g>

<!-- LABELS -->
<!--LAB-->
<text transform="translate(260.50 70.35) scale(1 1.090)" font-size="9.00" textLength="42.0" lengthAdjust="spacing">ZIP STEP</text>
<text transform="translate(260.50 81.60) scale(1 1.090)" font-size="9.00" textLength="42.5" lengthAdjust="spacing">CLIMBER</text>
<text transform="translate(187.50 100.80) scale(1 1.090)" font-size="9.00" textLength="40.5" lengthAdjust="spacing">LEG LIFT</text>
<text transform="translate(139.60 126.20) scale(1 1.090)" font-size="9.00" textLength="97.4" lengthAdjust="spacing">ENHANCED BARRIER</text>
<text transform="translate(153.00 137.40) scale(1 1.090)" font-size="9.00" textLength="71.0" lengthAdjust="spacing">W/PLAYWHEEL</text>
<text transform="translate(160.00 176.60) scale(1 1.090)" font-size="9.00" textLength="57.0" lengthAdjust="spacing">PLAYWHEEL</text>
<text transform="translate(319.00 191.90) scale(1 1.090)" font-size="9.00" textLength="69.3" lengthAdjust="spacing">DECK TO DECK</text>
<text transform="translate(337.50 204.10) scale(1 1.090)" font-size="9.00" textLength="32.5" lengthAdjust="spacing">STAIRS</text>
<text transform="translate(459.00 75.20) scale(1 1.090)" font-size="9.00" textLength="39.4" lengthAdjust="spacing">DOUBLE</text>
<text transform="translate(440.60 87.60) scale(1 1.090)" font-size="9.00" textLength="76.4" lengthAdjust="spacing">VELOCITY SLIDE</text>
<text transform="translate(77.00 275.60) scale(1 1.090)" font-size="9.00" textLength="100.0" lengthAdjust="spacing">TRIANGLE TRANSFER</text>
<text transform="translate(76.00 287.60) scale(1 1.090)" font-size="9.00" textLength="102.0" lengthAdjust="spacing">POINT W/HANDHOLD</text>
<text transform="translate(344.80 291.40) scale(1 1.090)" font-size="9.00" textLength="90.6" lengthAdjust="spacing">REVERSE SOLSTICE</text>
<text transform="translate(368.80 303.40) scale(1 1.090)" font-size="9.00" textLength="42.5" lengthAdjust="spacing">CLIMBER</text>
<text transform="translate(237.30 393.40) scale(1 1.090)" font-size="9.00" textLength="67.7" lengthAdjust="spacing">CLIFFHANGER</text>
<!--/LAB-->
</svg>
</body></html>
